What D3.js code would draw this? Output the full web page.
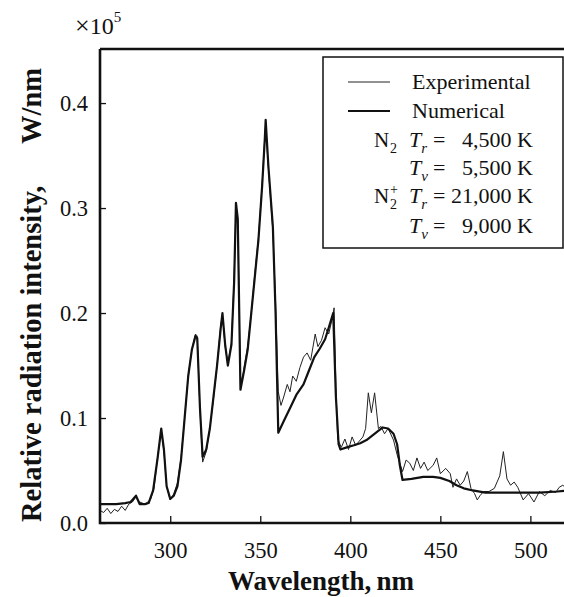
<!DOCTYPE html>
<html>
<head>
<meta charset="utf-8">
<script src="https://cdn.jsdelivr.net/npm/d3@7"></script>
<style>
  body { margin: 0; background: #fff; }
  text { font-family: "Liberation Serif", "Times New Roman", serif; fill: #111; }
</style>
</head>
<body>
<svg width="564" height="597"></svg>
<script>
// spectrum (wavelength nm, intensity x1e5 W/nm)
var numWl = [261, 265, 270, 275, 278, 281, 283, 286, 288, 290.5, 293, 295, 296.5, 298, 300, 302, 304, 306, 308, 310,
  312, 314, 315, 316.5, 318, 320, 322, 324, 326, 328, 329, 330.5, 332, 334, 335.5, 336.5, 337.5, 339, 341, 343,
  345, 347, 349, 351, 352.5, 353, 354.5, 357, 358.5, 360, 363, 366.7, 370, 374, 377, 380, 383, 386, 388, 390.5,
  392, 393.5, 394.5, 398, 402, 405.5, 409, 412, 415, 418, 421, 424, 426, 427.5, 429, 434, 440.5, 446, 450, 455,
  459, 463, 468, 475, 485, 495, 505, 515, 522];
var numVal = [0.018, 0.018, 0.018, 0.019, 0.02, 0.026, 0.018, 0.018, 0.019, 0.031, 0.062, 0.09, 0.07, 0.035, 0.023, 0.026, 0.035, 0.06, 0.1, 0.14,
  0.165, 0.178, 0.176, 0.11, 0.063, 0.07, 0.09, 0.12, 0.15, 0.185, 0.2, 0.17, 0.15, 0.17, 0.23, 0.305, 0.29, 0.127, 0.145, 0.165,
  0.2, 0.235, 0.27, 0.32, 0.365, 0.384, 0.34, 0.282, 0.2, 0.086, 0.097, 0.11, 0.122, 0.132, 0.145, 0.158, 0.166, 0.175, 0.186, 0.2,
  0.12, 0.075, 0.07, 0.072, 0.074, 0.076, 0.079, 0.083, 0.087, 0.091, 0.09, 0.085, 0.075, 0.055, 0.041, 0.042, 0.044, 0.044, 0.043, 0.04,
  0.036, 0.033, 0.031, 0.029, 0.029, 0.029, 0.029, 0.03, 0.031];

var expWl = [261, 263, 265, 267, 269, 271, 273, 275, 277, 279, 281, 283, 286, 289, 291, 293, 295, 296.5, 298, 300,
  302, 304, 306, 308, 310, 312, 314, 315, 316.5, 318, 320, 322, 324, 326, 328, 329, 330.5, 332, 334, 335.5,
  336.5, 337.5, 339, 340, 341, 343, 345, 347, 349, 351, 352.5, 353, 354.5, 357, 358.5, 360, 361.5, 363, 365, 366.5,
  368, 370, 372, 374, 376, 378, 380.5, 382, 384, 386, 388, 390, 391, 392, 393, 395, 397, 399, 401, 403,
  405, 407, 408.5, 410, 411.7, 413.5, 415.6, 417, 419, 421, 424, 426, 429, 431, 433, 435, 437, 439, 441, 443,
  446, 448, 450, 453, 455.5, 457, 459, 461, 463, 465, 467, 469, 470.5, 472, 474, 477, 480, 483, 485, 487,
  489, 491, 493, 496, 499, 502, 505, 508, 511, 514, 516, 518, 520, 522];
var expVal = [0.012, 0.01, 0.014, 0.009, 0.013, 0.011, 0.016, 0.012, 0.018, 0.02, 0.025, 0.02, 0.018, 0.022, 0.033, 0.063, 0.088, 0.068, 0.035, 0.022,
  0.028, 0.038, 0.062, 0.1, 0.14, 0.165, 0.18, 0.178, 0.108, 0.058, 0.068, 0.09, 0.118, 0.15, 0.188, 0.198, 0.168, 0.152, 0.172, 0.235,
  0.3, 0.288, 0.132, 0.135, 0.148, 0.168, 0.2, 0.238, 0.272, 0.322, 0.368, 0.38, 0.338, 0.278, 0.21, 0.125, 0.112, 0.12, 0.132, 0.125,
  0.14, 0.135, 0.148, 0.158, 0.162, 0.155, 0.18, 0.168, 0.174, 0.186, 0.18, 0.195, 0.205, 0.13, 0.08, 0.072, 0.08, 0.07, 0.082, 0.074,
  0.078, 0.082, 0.09, 0.124, 0.105, 0.124, 0.09, 0.092, 0.085, 0.09, 0.079, 0.065, 0.049, 0.06, 0.057, 0.05, 0.062, 0.052, 0.058, 0.05,
  0.055, 0.062, 0.047, 0.052, 0.047, 0.034, 0.042, 0.036, 0.04, 0.049, 0.033, 0.028, 0.022, 0.026, 0.03, 0.03, 0.033, 0.045, 0.068, 0.042,
  0.036, 0.039, 0.034, 0.022, 0.028, 0.02, 0.03, 0.026, 0.031, 0.029, 0.034, 0.036, 0.033, 0.038];

var xMajor = [300, 350, 400, 450, 500];
var xMinor = d3.range(270, 521, 10);
var yMajor = [0.0, 0.1, 0.2, 0.3, 0.4];
var yMinor = d3.range(0.02, 0.45, 0.02);

var svg = d3.select("svg");

var x = d3.scaleLinear()
    .domain([261, 522])
    .range([100, 570]);

var y = d3.scaleLinear()
    .domain([0, 0.4515])
    .range([523, 49]);

var line = d3.line()
    .x(function(d) { return x(d[0]); })
    .y(function(d) { return y(d[1]); });

var expData = expWl.map(function(w, i) { return [w, expVal[i]]; });
var numData = numWl.map(function(w, i) { return [w, numVal[i]]; });

svg.append("path")
    .datum(expData)
    .attr("fill", "none")
    .attr("stroke", "#222")
    .attr("stroke-width", 1)
    .attr("d", line);

svg.append("path")
    .datum(numData)
    .attr("fill", "none")
    .attr("stroke", "#111")
    .attr("stroke-width", 2.2)
    .attr("stroke-linejoin", "round")
    .attr("d", line);

// axes, ticks pointing inside
var gx = svg.append("g")
    .attr("transform", "translate(0," + y(0) + ")");
gx.call(d3.axisBottom(x).tickValues(xMinor).tickSize(-4).tickFormat(""));
gx.call(d3.axisBottom(x).tickValues(xMajor).tickSize(-7).tickSizeOuter(0).tickPadding(19).tickFormat(d3.format("d")));

var gy = svg.append("g")
    .attr("transform", "translate(" + x(261) + ",0)");
gy.call(d3.axisLeft(y).tickValues(yMinor).tickSize(-6).tickFormat(""));
gy.call(d3.axisLeft(y).tickValues(yMajor).tickSize(-6).tickSizeOuter(0).tickPadding(12).tickFormat(d3.format(".1f")));

svg.selectAll(".domain").remove();
svg.selectAll(".tick line").attr("stroke", "#111").attr("stroke-width", 1.3);
svg.selectAll(".tick text")
    .attr("font-size", 22.5)
    .attr("font-family", "Liberation Serif, serif")
    .attr("fill", "#111");

// frame
svg.append("path")
    .attr("d", "M" + x(261) + "," + y(0.4515) + "V" + y(0) + "H" + 564 + "M" + x(261) + "," + y(0.4515) + "H" + 564)
    .attr("fill", "none")
    .attr("stroke", "#111")
    .attr("stroke-width", 2.6);

// x10^5
var mult = svg.append("text").attr("x", 75).attr("y", 34).attr("font-size", 24);
mult.append("tspan").attr("font-size", 26).text("×");
mult.append("tspan").text("10");
mult.append("tspan").attr("font-size", 15).attr("dy", -12).text("5");

svg.append("text")
    .attr("transform", "translate(41,522) rotate(-90)")
    .attr("font-size", 28.5)
    .attr("font-weight", "bold")
    .text("Relative radiation intensity,");

svg.append("text")
    .attr("transform", "translate(41,68) rotate(-90)")
    .attr("text-anchor", "end")
    .attr("font-size", 28.5)
    .attr("font-weight", "bold")
    .text("W/nm");

svg.append("text")
    .attr("x", 228)
    .attr("y", 590)
    .attr("font-size", 27)
    .attr("font-weight", "bold")
    .text("Wavelength,");

svg.append("text")
    .attr("x", 414)
    .attr("y", 590)
    .attr("text-anchor", "end")
    .attr("font-size", 27)
    .attr("font-weight", "bold")
    .text("nm");

// legend
var leg = svg.append("g");
leg.append("rect")
    .attr("x", 323).attr("y", 57)
    .attr("width", 240).attr("height", 191)
    .attr("fill", "#fff")
    .attr("stroke", "#111")
    .attr("stroke-width", 1.5);

leg.append("line").attr("x1", 348).attr("x2", 390).attr("y1", 82).attr("y2", 82)
    .attr("stroke", "#222").attr("stroke-width", 1);
leg.append("line").attr("x1", 348).attr("x2", 390).attr("y1", 111).attr("y2", 111)
    .attr("stroke", "#111").attr("stroke-width", 2);
leg.append("text").attr("x", 412).attr("y", 89).attr("font-size", 22).text("Experimental");
leg.append("text").attr("x", 412).attr("y", 118).attr("font-size", 22).text("Numerical");

var species = [{ y: 147, plus: false }, { y: 203, plus: true }];
species.forEach(function(s) {
  leg.append("text").attr("x", 374).attr("y", s.y).attr("font-size", 21).text("N");
  leg.append("text").attr("x", 390).attr("y", s.y + 6).attr("font-size", 14).text("2");
  if (s.plus) {
    leg.append("text").attr("x", 390).attr("y", s.y - 9).attr("font-size", 14).text("+");
  }
});

var temps = [
  { y: 147, sub: "r", val: "4,500 K" },
  { y: 175, sub: "v", val: "5,500 K" },
  { y: 203, sub: "r", val: "21,000 K" },
  { y: 233, sub: "v", val: "9,000 K" }
];
temps.forEach(function(d) {
  var t = leg.append("text").attr("x", 409).attr("y", d.y).attr("font-size", 22);
  t.append("tspan").attr("font-style", "italic").text("T");
  t.append("tspan").attr("font-style", "italic").attr("font-size", 15).attr("dy", 6).text(d.sub);
  leg.append("text").attr("x", 433).attr("y", d.y).attr("font-size", 22).text("=");
  leg.append("text").attr("x", 533).attr("y", d.y).attr("font-size", 22).attr("text-anchor", "end").text(d.val);
});
</script>
</body>
</html>
